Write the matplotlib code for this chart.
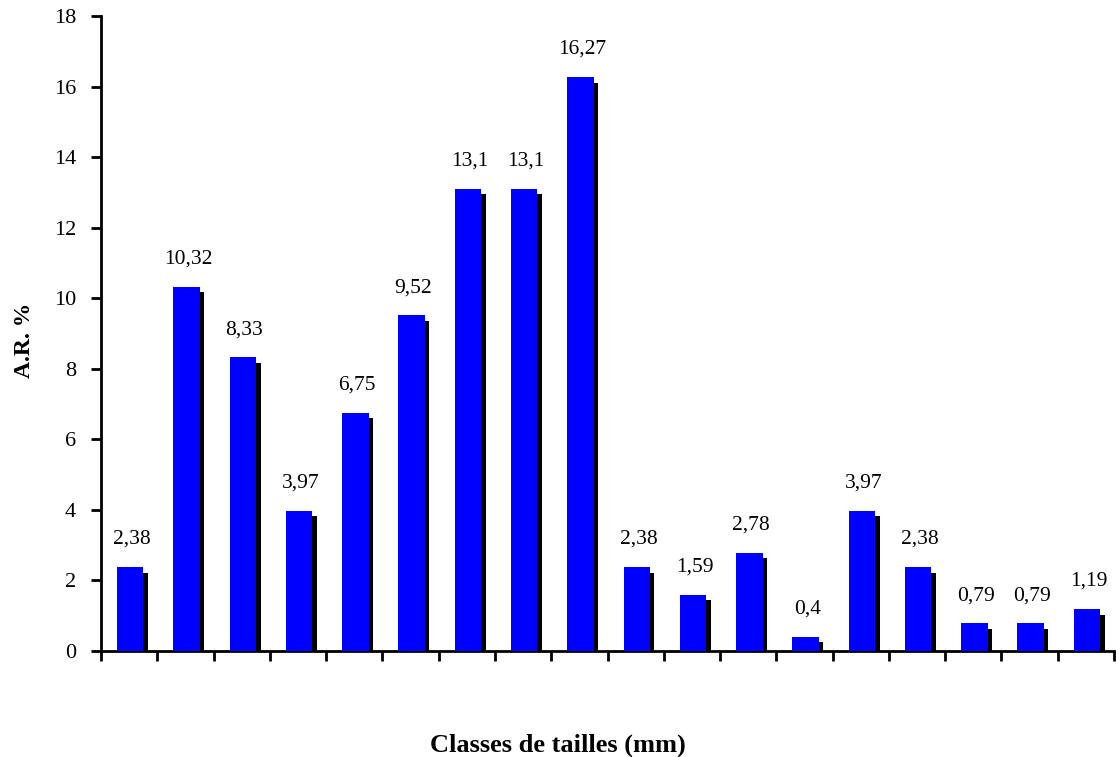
import matplotlib.pyplot as plt
import matplotlib.transforms as mtransforms
import numpy as np

plt.rcParams['font.family'] = ['Liberation Serif', 'DejaVu Serif']

# abondance relative (%) par classe de tailles
valeurs = [2.38, 10.32, 8.33, 3.97, 6.75, 9.52, 13.1, 13.1, 16.27,
           2.38, 1.59, 2.78, 0.4, 3.97, 2.38, 0.79, 0.79, 1.19]
etiquettes = ['2,38', '10,32', '8,33', '3,97', '6,75', '9,52', '13,1', '13,1', '16,27',
              '2,38', '1,59', '2,78', '0,4', '3,97', '2,38', '0,79', '0,79', '1,19']
yticks = [0, 2, 4, 6, 8, 10, 12, 14, 16, 18]

fig = plt.figure(figsize=(11.16, 7.57), dpi=100)
ax = fig.add_axes([101 / 1116, 1 - 651 / 757, (1114 - 101) / 1116, (651 - 16) / 757])

x = np.arange(len(valeurs))
largeur = 0.47

# ombre noire décalée vers la droite et le bas
ombre = ax.transData + mtransforms.ScaledTranslation(4.5 / 100, -5.5 / 100, fig.dpi_scale_trans)
ax.bar(x + 0.02, valeurs, width=largeur, color='black', transform=ombre, zorder=2)
ax.bar(x + 0.02, valeurs, width=largeur, color='#0000FF', zorder=3)

for xi, v, t in zip(x, valeurs, etiquettes):
    ax.annotate(t, (xi, v), xytext=(2, 13), textcoords='offset points',
                ha='center', va='bottom', fontsize=15.5)

ax.set_xlim(-0.5, len(valeurs) - 0.5)
ax.set_ylim(0, 18)
ax.set_yticks(yticks)
ax.set_yticklabels([str(t) for t in yticks], fontsize=16)
ax.set_xticks(np.arange(len(valeurs) + 1) - 0.5)
ax.set_xticklabels([])

for s in ['top', 'right']:
    ax.spines[s].set_visible(False)
for s in ['left', 'bottom']:
    ax.spines[s].set_linewidth(2)
ax.tick_params(axis='both', direction='out', length=7, width=2)
ax.tick_params(axis='y', pad=11)

fig.text(25 / 1116, 1 - 340 / 757, 'A.R. %', rotation=90, ha='center', va='center',
         fontsize=17, fontweight='bold')
fig.text(558 / 1116, 1 - 745 / 757, 'Classes de tailles (mm)', ha='center', va='center',
         fontsize=19, fontweight='bold')

fig.savefig('out.png', dpi=100)
